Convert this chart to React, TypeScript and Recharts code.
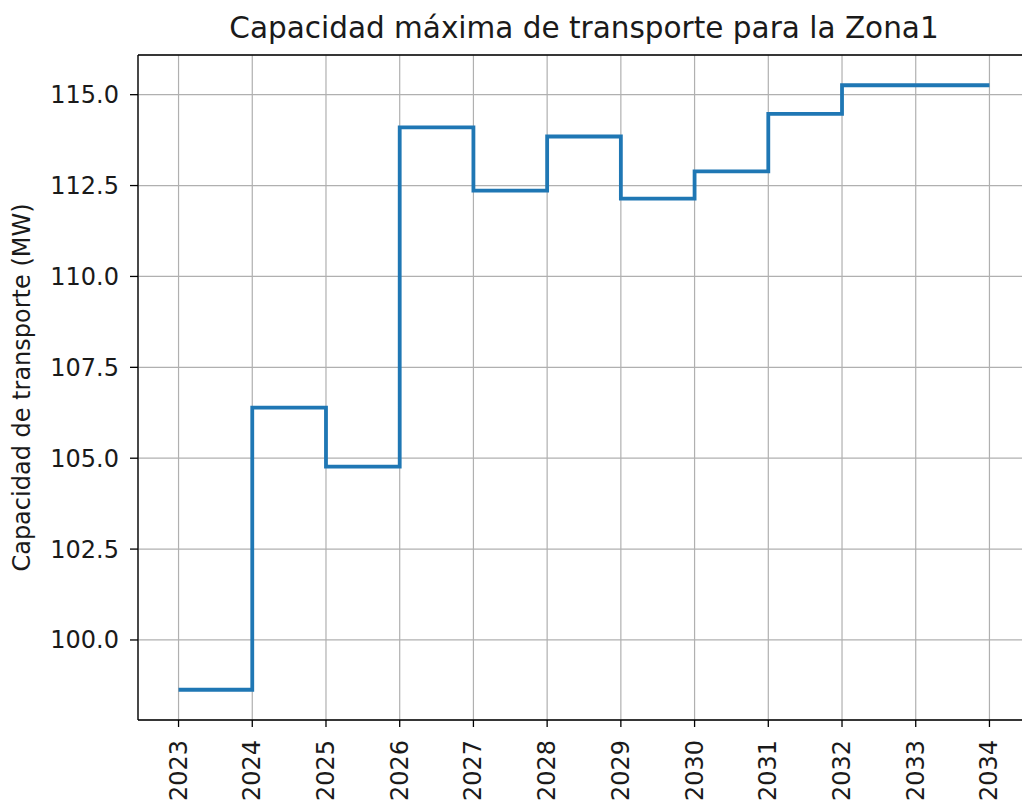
import React from 'react';
import { LineChart, Line, XAxis, YAxis, CartesianGrid, ReferenceLine, Label } from 'recharts';

const years = [2023, 2024, 2025, 2026, 2027, 2028, 2029, 2030, 2031, 2032, 2033, 2034];
const capacity = [98.63, 106.39, 104.77, 114.1, 112.36, 113.85, 112.14, 112.89, 114.47, 115.26, 115.26, 115.26];
const yTicks = [100, 102.5, 105, 107.5, 110, 112.5, 115];
const chartTitle = 'Capacidad máxima de transporte para la Zona1';
const yAxisLabel = 'Capacidad de transporte (MW)';

const data = years.map((y, i) => ({ year: y, value: capacity[i] }));
const minV = Math.min(...capacity);
const maxV = Math.max(...capacity);
const yPad = (maxV - minV) * 0.05;
const yDomain: [number, number] = [minV - yPad, maxV + yPad];
const xPad = (years[years.length - 1] - years[0]) * 0.05;
const xDomain: [number, number] = [years[0] - xPad, years[years.length - 1] + xPad];

const FONT = '"DejaVu Sans", sans-serif';

const XTick = (props: any) => {
  const { x, y, payload } = props;
  return (
    <text
      x={x}
      y={y}
      transform={`rotate(-90 ${x} ${y})`}
      textAnchor="end"
      dominantBaseline="central"
      fontSize={24}
      fontFamily={FONT}
      fill="#1a1a1a"
    >
      {payload.value}
    </text>
  );
};

const YLabelContent = (props: any) => {
  const vb = props.viewBox || { x: 0, y: 55, width: 138, height: 665 };
  const cx = 22;
  const cy = vb.y + vb.height / 2;
  return (
    <text
      x={cx}
      y={cy}
      transform={`rotate(-90 ${cx} ${cy})`}
      textAnchor="middle"
      dominantBaseline="central"
      fontSize={24}
      fontFamily={FONT}
      fill="#1a1a1a"
    >
      {yAxisLabel}
    </text>
  );
};

export default function App() {
  return (
    <div style={{ position: 'absolute', left: 0, top: 0, width: 1022, height: 804, overflow: 'hidden', background: '#fff' }}>
      <div
        style={{
          position: 'absolute',
          left: 138,
          width: 892,
          top: 8,
          textAlign: 'center',
          fontFamily: FONT,
          fontSize: 29.5,
          color: '#1a1a1a',
          lineHeight: '40px',
          whiteSpace: 'nowrap',
        }}
      >
        {chartTitle}
      </div>
      <div style={{ position: 'absolute', left: 0, top: 0 }}>
        <LineChart width={1040} height={804} data={data} margin={{ top: 55, right: 10, bottom: 0, left: 0 }}>
          <CartesianGrid stroke="#b0b0b0" strokeWidth={1.2} />
          <XAxis
            dataKey="year"
            type="number"
            domain={xDomain}
            ticks={years}
            allowDataOverflow
            height={84}
            tickSize={7}
            tickMargin={13}
            tick={<XTick />}
            tickLine={{ stroke: '#000', strokeWidth: 1.3 }}
            axisLine={{ stroke: '#000', strokeWidth: 1.3 }}
            interval={0}
          />
          <YAxis
            type="number"
            domain={yDomain}
            ticks={yTicks}
            allowDataOverflow
            width={138}
            tickSize={8}
            tickMargin={11}
            tickFormatter={(v: number) => v.toFixed(1)}
            tick={{ fill: '#1a1a1a', fontSize: 24, fontFamily: FONT }}
            tickLine={{ stroke: '#000', strokeWidth: 1.3 }}
            axisLine={{ stroke: '#000', strokeWidth: 1.3 }}
            interval={0}
          >
            <Label content={<YLabelContent />} />
          </YAxis>
          <ReferenceLine y={yDomain[1]} stroke="#000" strokeWidth={1.3} />
          <Line
            type="stepAfter"
            dataKey="value"
            stroke="#1f77b4"
            strokeWidth={3.8}
            dot={false}
            isAnimationActive={false}
          />
        </LineChart>
      </div>
    </div>
  );
}
